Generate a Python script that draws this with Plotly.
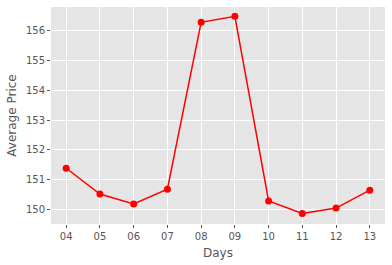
import plotly.graph_objects as go

days = ["04", "05", "06", "07", "08", "09", "10", "11", "12", "13"]
avg_price = [151.39, 150.53, 150.20, 150.69, 156.26, 156.46, 150.30, 149.88, 150.06, 150.66]
y_ticks = [150, 151, 152, 153, 154, 155, 156]

fig = go.Figure(go.Scatter(
    x=days, y=avg_price, mode="lines+markers",
    line=dict(color="red", width=1.5),
    marker=dict(color="red", size=7),
))

axis_common = dict(
    showgrid=True, gridcolor="white", gridwidth=1,
    ticks="outside", ticklen=3, tickcolor="#555555", tickwidth=1,
    tickfont=dict(family="DejaVu Sans", size=10, color="#555555"),
    zeroline=False, showline=False,
)

fig.update_layout(
    width=392, height=265,
    margin=dict(l=51, r=7, t=7, b=41),
    paper_bgcolor="white", plot_bgcolor="#E5E5E5",
    showlegend=False,
    xaxis=dict(type="category", range=[-0.45, 9.45],
               title=dict(text="Days", font=dict(family="DejaVu Sans", size=12, color="#555555"), standoff=7),
               **axis_common),
    yaxis=dict(range=[149.53, 156.77], tickvals=y_ticks,
               title=dict(text="Average Price", font=dict(family="DejaVu Sans", size=12, color="#555555"), standoff=6),
               **axis_common),
)

fig.write_html("out.html")
